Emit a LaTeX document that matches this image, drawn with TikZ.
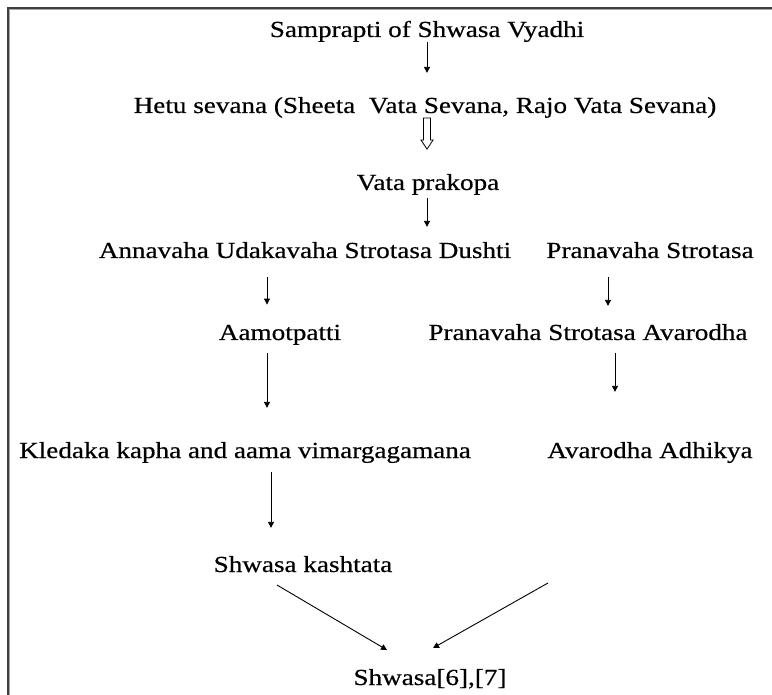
\documentclass[tikz,border=0pt]{standalone}
\usepackage{fontspec}
\setmainfont{Liberation Serif}[FakeStretch=1.18, FakeBold=0.5]
\usetikzlibrary{arrows.meta}

\tikzset{
  lbl/.style={inner sep=0pt, anchor=base, font=\fontsize{23}{28}\selectfont},
  arr/.style={-{Triangle[length=6pt,width=6pt]}, line width=0.9pt},
  hollow/.style={line width=0.8pt, fill=white},
  frame/.style={line width=1.5pt, black!75},
  frameshade/.style={line width=1pt, black!35},
}

\begin{document}
\begin{tikzpicture}[x=1pt, y=-1pt]
    \useasboundingbox (0,0) rectangle (772,695);
    \draw[frame] (772,8) -- (8,8) -- (8,695);
    \draw[frameshade] (772,9.6) -- (9.6,9.6) -- (9.6,695);

    % texts (placed on their baselines)
    \node[lbl] (title) at (427,37) {Samprapti of Shwasa Vyadhi};
    \node[lbl] (hetu) at (425,113) {Hetu sevana (Sheeta~ Vata Sevana, Rajo Vata Sevana)};
    \node[lbl] (vata) at (428,190) {Vata prakopa};
    \node[lbl] (anna) at (305,258) {Annavaha Udakavaha Strotasa Dushti};
    \node[lbl] (prana) at (650,258) {Pranavaha Strotasa};
    \node[lbl] (aamo) at (280,340) {Aamotpatti};
    \node[lbl] (avar) at (588,340) {Pranavaha Strotasa Avarodha};
    \node[lbl] (kled) at (245,458) {Kledaka kapha and aama vimargagamana};
    \node[lbl] (adhi) at (650,458) {Avarodha Adhikya};
    \node[lbl] (kash) at (303,572) {Shwasa kashtata};
    \node[lbl] (shw) at (430,685) {Shwasa[6],[7]};

    % ends of the two slanted arrows
    \coordinate (kashend) at (277,585);
    \coordinate (adhiend) at (548,583);
    \coordinate (shwleft) at (387,650);
    \coordinate (shwright) at (433,648);

    % arrows
    \draw[arr, shorten >=24pt] (title.south -| 427,0) -- (hetu.north -| 427,0);
    \draw[hollow] (hetu.south -| 427,0) -- ++(-3.5,0) -- ++(0,22) -- ++(-2.5,0) -- ++(6,9)
        -- ++(6,-9) -- ++(-2.5,0) -- ++(0,-22) -- cycle;
    \draw[arr, shorten <=3pt, shorten >=15pt] (vata.south -| 427,0) -- (anna.north -| 427,0);
    \draw[arr, shorten <=19pt, shorten >=20pt] (anna.south -| 267,0) -- (aamo.north -| 267,0);
    \draw[arr, shorten <=19pt, shorten >=18pt] (prana.south -| 608,0) -- (avar.north -| 608,0);
    \draw[arr, shorten <=8pt, shorten >=34pt] (aamo.south -| 267,0) -- (kled.north -| 267,0);
    \draw[arr, shorten <=13pt, shorten >=50pt] (avar.south -| 615,0) -- (adhi.north -| 615,0);
    \draw[arr, shorten <=9pt, shorten >=28pt] (kled.south -| 271,0) -- (kash.north -| 271,0);
    \draw[arr] (kashend) -- (shwleft);
    \draw[arr] (adhiend) -- (shwright);
\end{tikzpicture}
\end{document}
